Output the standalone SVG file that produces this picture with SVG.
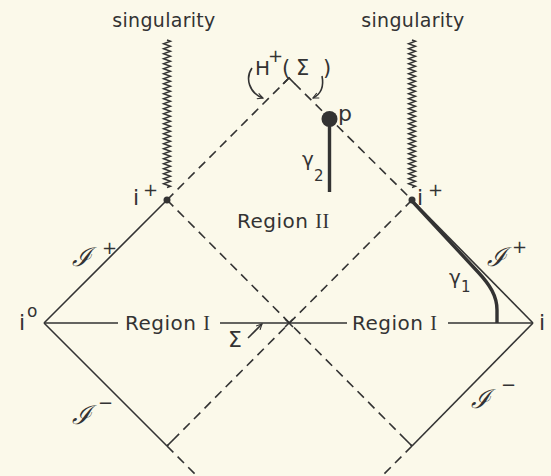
<svg xmlns="http://www.w3.org/2000/svg" width="551" height="476" viewBox="0 0 551 476">
<style>
.bg{fill:#fbf9ea}
.solid{fill:none;stroke:#333;stroke-width:1.6}
.dash{fill:none;stroke:#333;stroke-width:1.6;stroke-dasharray:9 6}
.thick{fill:none;stroke:#333;stroke-width:3.4;stroke-linecap:butt}
.zz{fill:none;stroke:#333;stroke-width:1.4;stroke-linejoin:miter}
.t{font-family:"DejaVu Sans",sans-serif;fill:#333}
.reg{font-size:20px;letter-spacing:0.5px}
.rom{font-family:"Liberation Serif",serif}
.sing{font-size:19px;letter-spacing:0.3px}
.scri{font-family:"DejaVu Serif",serif;font-style:italic;font-size:26px;fill:#333}
.sup{font-size:18px}
.lab{font-size:22px}
</style>
<defs>
<path id="zig" d="M0,0 l3.5,1.25 -7 2.5 7 2.5 -7 2.5 7 2.5 -7 2.5 7 2.5 -7 2.5 7 2.5 -7 2.5 7 2.5 -7 2.5 7 2.5 -7 2.5 7 2.5 -7 2.5 7 2.5 -7 2.5 7 2.5 -7 2.5 7 2.5 -7 2.5 7 2.5 -7 2.5 7 2.5 -7 2.5 7 2.5 -7 2.5 7 2.5 -7 2.5 7 2.5 -7 2.5 7 2.5 -7 2.5 7 2.5 -7 2.5 7 2.5 -7 2.5 7 2.5 -7 2.5 7 2.5 -7 2.5 7 2.5 -7 2.5 7 2.5 -7 2.5 7 2.5 -7 2.5 7 2.5 -7 2.5 7 2.5 -7 2.5 7 2.5 -7 2.5 7 2.5 -7 2.5 7 2.5 -7 2.5 7 2.5 -3.5 1.25"/>
<marker id="arr" viewBox="0 0 10 10" refX="9" refY="5" markerWidth="7" markerHeight="7" markerUnits="userSpaceOnUse" orient="auto">
<path d="M1,1 L9,5 L1,9" fill="none" stroke="#333" stroke-width="1.6"/>
</marker>
</defs>
<rect class="bg" x="0" y="0" width="551" height="476"/>

<g id="connectors">
<path class="solid" d="M44,323 L167,200"/>
<path class="solid" d="M44,323 L167,446"/>
<path class="solid" d="M412,200 L533,323"/>
<path class="solid" d="M533,323 L412,446"/>
<path class="solid" d="M44,323 L118,323 M220,323 L347,323 M448,323 L533,323"/>
<path class="dash" d="M167,200 L289,78 L412,200"/>
<path class="solid" d="M283,84 L289,78 L295,84"/>
<path class="dash" d="M167,200 L412,446"/>
<path class="dash" d="M412,200 L167,446"/>
<path class="dash" d="M167,446 L197,476"/>
<path class="dash" d="M412,446 L382,476"/>
<path class="solid" d="M285,319 L293,327 M293,319 L285,327"/>
<path class="solid" d="M167,446 L173,440 M412,446 L406,440"/>
<use href="#zig" x="167" y="40" class="zz"/>
<use href="#zig" x="412" y="40" class="zz"/>
<path class="thick" d="M412,201 L478,272 C490,285 497,296 497,310 L497,323"/>
<path class="thick" d="M329.5,120 L329.5,192"/>
<path class="solid" d="M248,338 L262,324" marker-end="url(#arr)"/>
<path class="solid" d="M252,68 C245,78 249,93 263,98" marker-end="url(#arr)"/>
<path class="solid" d="M322,76 C324,86 321,94 313,98" marker-end="url(#arr)"/>
</g>

<g id="node-p">
<circle cx="329.5" cy="119" r="8" fill="#333"/>
<text class="t lab" x="338" y="121">p</text>
</g>
<g id="node-iplus-left">
<circle cx="167" cy="200" r="3.5" fill="#333"/>
<text class="t lab" x="133" y="205">i</text>
<text class="t sup" x="143" y="196">+</text>
</g>
<g id="node-iplus-right">
<circle cx="412" cy="200" r="3.5" fill="#333"/>
<text class="t lab" x="417" y="205">i</text>
<text class="t sup" x="428" y="196">+</text>
</g>
<g id="node-i0-left">
<text class="t lab" x="19" y="330">i</text>
<text class="t" style="font-size:17px" x="27" y="317">o</text>
</g>
<g id="node-i0-right">
<text class="t lab" x="539" y="330">i</text>
</g>
<g id="labels">
<text class="t sing" x="164" y="27" text-anchor="middle">singularity</text>
<text class="t sing" x="413" y="27" text-anchor="middle">singularity</text>
<text class="t" style="font-size:20px" x="255" y="75">H</text>
<text class="t sup" x="268" y="62">+</text>
<text class="t" style="font-size:21px" x="282 296 323" y="75">(Σ)</text>
<text class="t reg" x="125" y="330">Region <tspan class="rom">I</tspan></text>
<text class="t reg" x="352" y="330">Region <tspan class="rom">I</tspan></text>
<text class="t reg" x="237" y="228">Region <tspan class="rom">II</tspan></text>
<text class="t" style="font-size:22px" x="228" y="347">Σ</text>
<text class="scri" x="72" y="266">ℐ</text>
<text class="t sup" x="102" y="254">+</text>
<text class="scri" x="487" y="266">ℐ</text>
<text class="t sup" x="512" y="253">+</text>
<text class="scri" x="72" y="424">ℐ</text>
<text class="t sup" x="98" y="409">−</text>
<text class="scri" x="471" y="408">ℐ</text>
<text class="t sup" x="501" y="391">−</text>
<text class="t" style="font-size:20px" x="449" y="284">γ</text>
<text class="t" style="font-size:15px" x="461" y="292">1</text>
<text class="t" style="font-size:20px" x="302" y="166">γ</text>
<text class="t" style="font-size:15px" x="314" y="181">2</text>
</g>
</svg>
